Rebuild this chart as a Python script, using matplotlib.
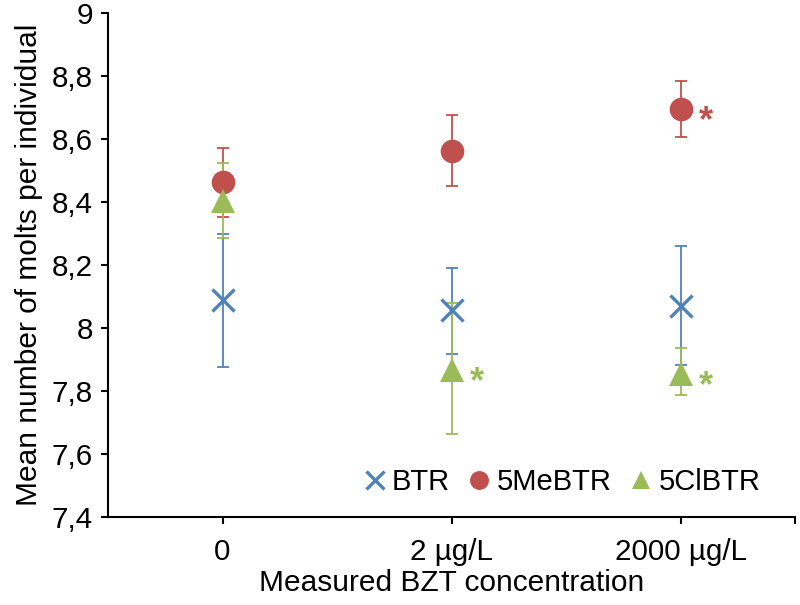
import numpy as np
import matplotlib.pyplot as plt
from matplotlib.ticker import FuncFormatter

plt.rcParams['font.family'] = ['Liberation Sans', 'DejaVu Sans']

# Data
concentrations = ['0', '2 µg/L', '2000 µg/L']
x_pos = [1, 2, 3]

btr_mean = [8.089, 8.058, 8.071]
btr_low = [7.876, 7.919, 7.882]
btr_high = [8.298, 8.190, 8.260]

me_mean = [8.465, 8.564, 8.696]
me_low = [8.352, 8.450, 8.608]
me_high = [8.571, 8.677, 8.784]

cl_mean = [8.403, 7.867, 7.855]
cl_low = [8.285, 7.664, 7.788]
cl_high = [8.526, 8.081, 7.937]

# significance marks (index into categories)
sig_me = [2]
sig_cl = [1, 2]

blue = '#4F81BD'
red = '#C0504D'
green = '#9BBB59'

fig = plt.figure(figsize=(8, 6.05), dpi=100)
ax = fig.add_axes([0.135, 0.1455, 0.859, 0.8325])


def yerr(mean, low, high):
    m = np.array(mean)
    return [m - np.array(low), np.array(high) - m]


series = [
    ('BTR', btr_mean, btr_low, btr_high, blue, 'x'),
    ('5MeBTR', me_mean, me_low, me_high, red, 'o'),
    ('5ClBTR', cl_mean, cl_low, cl_high, green, '^'),
]

for name, mean, low, high, col, mk in series:
    ax.errorbar(x_pos, mean, yerr=yerr(mean, low, high), fmt='none',
                ecolor=col, elinewidth=1.3, capsize=4, capthick=1.3, zorder=2)
    if mk == 'x':
        ax.plot(x_pos, mean, ls='none', marker=mk, color=col, ms=16.5, mew=2.4,
                label=name, zorder=3)
    else:
        ax.plot(x_pos, mean, ls='none', marker=mk, color=col, ms=17, mew=0,
                label=name, zorder=3)

for i in sig_me:
    ax.annotate('*', xy=(x_pos[i], me_mean[i]), xytext=(18, -9),
                textcoords='offset points', color=red, fontsize=26,
                fontweight='bold', ha='center', va='center')
for i in sig_cl:
    ax.annotate('*', xy=(x_pos[i], cl_mean[i]), xytext=(18, -9),
                textcoords='offset points', color=green, fontsize=26,
                fontweight='bold', ha='center', va='center')

ax.set_xlim(0.5, 3.5)
ax.set_ylim(7.4, 9.0)
ax.set_yticks(np.arange(7.4, 9.01, 0.2))
ax.yaxis.set_major_formatter(FuncFormatter(lambda v, p: f'{v:.1f}'.rstrip('0').rstrip('.').replace('.', ',')))
ax.set_xticks([1, 2, 3, 3.5])
ax.set_xticklabels(concentrations + [''])

for side in ['top', 'right']:
    ax.spines[side].set_visible(False)
for side in ['left', 'bottom']:
    ax.spines[side].set_linewidth(1.5)

ax.tick_params(axis='both', labelsize=21.3, width=1.5, length=5, direction='out')
ax.tick_params(axis='x', pad=10)
ax.tick_params(axis='y', pad=6)

ax.set_xlabel('Measured BZT concentration', fontsize=21.5, labelpad=2)
ax.set_ylabel('Mean number of molts per individual', fontsize=21.5, labelpad=6)

ax.legend(loc='center', bbox_to_anchor=(0.66, 0.069), ncol=3, frameon=False,
          fontsize=21, handlelength=0.8, handletextpad=0.2, columnspacing=0.6,
          markerscale=0.8, borderpad=0)

fig.savefig('out.png', dpi=100)
